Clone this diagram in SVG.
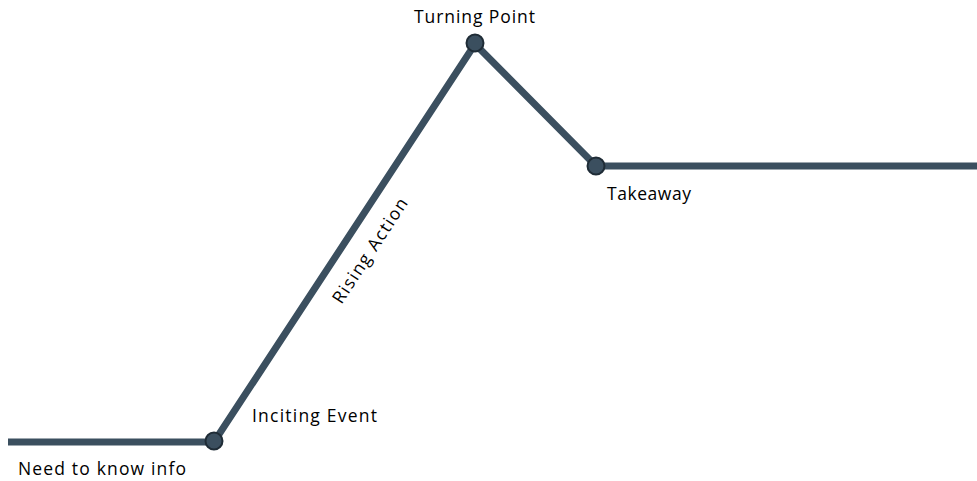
<svg xmlns="http://www.w3.org/2000/svg" width="977" height="481" viewBox="0 0 977 481">
<style>
.t{font-family:"Open Sans","Liberation Sans",sans-serif;font-size:17.5px;fill:#000}
.ln{fill:none;stroke:#3b4f5f;stroke-width:7;stroke-linejoin:miter}
.pt{fill:#3b4f5f;stroke:#1f2c36;stroke-width:2}
</style>
<rect width="977" height="481" fill="#fff"/>
<g id="connectors">
<polyline class="ln" points="8,442 214,442 475,44 596,166 977,166"/>
</g>
<g id="inciting-event"><circle class="pt" cx="214" cy="441" r="8.5"/><text class="t" x="252" y="422" textLength="125">Inciting Event</text></g>
<g id="turning-point"><circle class="pt" cx="475" cy="43" r="8.5"/><text class="t" x="414" y="23" textLength="121">Turning Point</text></g>
<g id="takeaway"><circle class="pt" cx="596" cy="166" r="8.5"/><text class="t" x="607" y="200" textLength="84">Takeaway</text></g>
<g id="need-to-know"><text class="t" x="18" y="475" textLength="168">Need to know info</text></g>
<g id="rising-action"><text class="t" x="0" y="0" text-anchor="middle" textLength="122" transform="translate(375,254) rotate(-56.7)">Rising Action</text></g>
</svg>
